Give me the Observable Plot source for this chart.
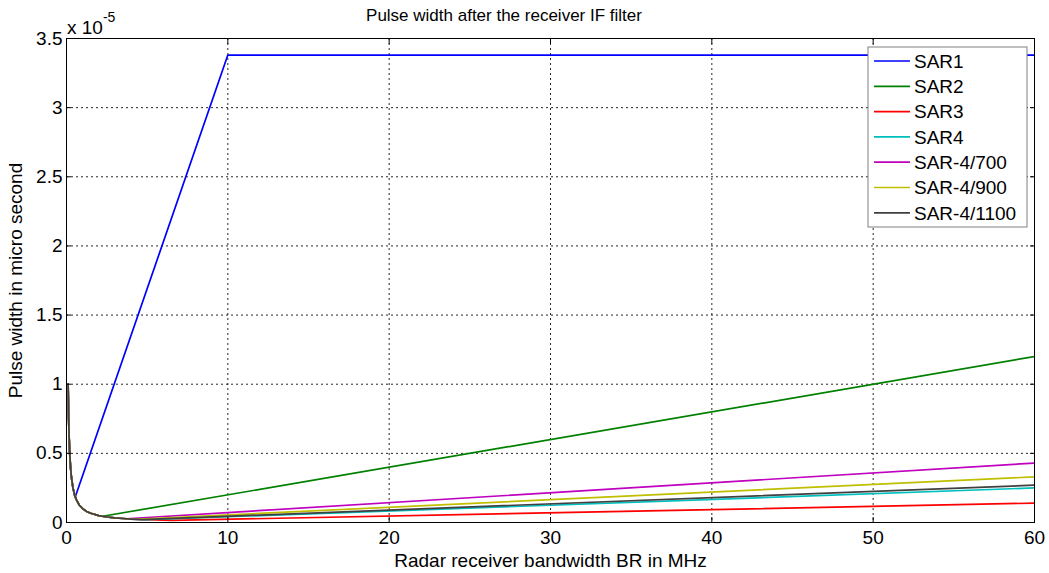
<!DOCTYPE html>
<html><head><meta charset="utf-8">
<script src="https://cdn.jsdelivr.net/npm/d3@7"></script>
<script src="https://cdn.jsdelivr.net/npm/@observablehq/plot@0.6"></script>
<style>
html,body{margin:0;padding:0;background:#fff;}
svg{font-family:"Liberation Sans",Arial,sans-serif;}
</style></head>
<body><div id="chart"></div>
<script>
// Values in units of 1e-5 (y) and MHz (x)
const seriesNames = ["SAR1","SAR2","SAR3","SAR4","SAR-4/700","SAR-4/900","SAR-4/1100"];
const seriesColors = ["#0000ff","#008000","#ff0000","#00bfbf","#bf00bf","#bfbf00","#404040"];
// shared falling branch
const decayX = [0.1, 0.13, 0.16, 0.2, 0.25, 0.3, 0.4, 0.5, 0.6, 0.8, 1, 1.25, 1.5, 2, 2.5, 3, 3.5, 4, 5, 6, 7];
const decayY = [1.0, 0.77, 0.625, 0.5, 0.4, 0.333, 0.25, 0.2, 0.167, 0.125, 0.1, 0.08, 0.067, 0.05, 0.04, 0.033, 0.029, 0.025, 0.02, 0.0167, 0.0143];
// rising branch of each series
const tailX = [[0.54, 10, 60],[2.24, 60],[6.55, 60],[4.9, 60],[3.73, 60],[4.26, 60],[4.71, 60]];
const tailY = [[0.184, 3.38, 3.38],[0.045, 1.2],[0.0153, 0.14],[0.0204, 0.25],[0.027, 0.43],[0.0235, 0.33],[0.021, 0.27]];
const xTicks = [0,10,20,30,40,50,60];
const yTicks = [0,0.5,1,1.5,2,2.5,3,3.5];

const data = [];
seriesNames.forEach((name, i) => {
  const x0 = tailX[i][0];
  decayX.forEach((x, j) => { if (x < x0) data.push({series: name, x, y: decayY[j]}); });
  tailX[i].forEach((x, j) => data.push({series: name, x, y: tailY[i][j]}));
});

const FS = 19;
const W = 1049, H = 573;
const chart = Plot.plot({
  width: W, height: H,
  marginLeft: 66, marginRight: 15, marginTop: 38, marginBottom: 51,
  style: {fontFamily: '"Liberation Sans",Arial,sans-serif', fontSize: FS + "px", color: "#000", background: "#fff"},
  x: {domain: [0, 60], ticks: xTicks},
  y: {domain: [0, 3.5], ticks: yTicks},
  color: {domain: seriesNames, range: seriesColors},
  marks: [
    Plot.gridX(xTicks, {stroke: "#000", strokeOpacity: 0.85, strokeDasharray: "2,3"}),
    Plot.gridY(yTicks, {stroke: "#000", strokeOpacity: 0.85, strokeDasharray: "2,3"}),
    Plot.line(data, {x: "x", y: "y", z: "series", stroke: "series", strokeWidth: 1.7, clip: true}),
    Plot.frame({stroke: "#000", strokeWidth: 1}),
    Plot.axisX(xTicks, {anchor: "bottom", tickSize: -5, tickPadding: 13, tickFormat: d => String(d), label: "Radar receiver bandwidth BR in MHz", labelAnchor: "center", labelArrow: "none", labelOffset: 44, fontSize: FS}),
    Plot.axisX(xTicks, {anchor: "top", tickSize: -5, text: null, label: null}),
    Plot.axisY(yTicks, {anchor: "left", tickSize: -5, tickPadding: 9, tickFormat: d => String(d), label: "Pulse width in micro second", labelAnchor: "center", labelArrow: "none", labelOffset: 58, fontSize: FS}),
    Plot.axisY(yTicks, {anchor: "right", tickSize: -5, text: null, label: null})
  ]
});
document.getElementById("chart").appendChild(chart);

const svg = d3.select(chart);
// title
svg.append("text").attr("x", 504).attr("y", 21).attr("text-anchor", "middle")
  .style("font-size", "17px").attr("fill", "#000").text("Pulse width after the receiver IF filter");
// exponent
const ex = svg.append("text").attr("x", 67).attr("y", 34).attr("text-anchor", "start")
  .style("font-size", FS + "px").attr("fill", "#000");
ex.append("tspan").text("x 10");
ex.append("tspan").attr("dy", -12).style("font-size", "14px").text("-5");

// legend
const lg = svg.append("g").attr("transform", "translate(868,47)");
lg.append("rect").attr("width", 159).attr("height", 180).attr("fill", "#fff").attr("stroke", "#808080").attr("stroke-width", 1);
seriesNames.forEach((name, i) => {
  const y = 14 + i * 25.3;
  lg.append("line").attr("x1", 6).attr("x2", 42).attr("y1", y).attr("y2", y)
    .attr("stroke", seriesColors[i]).attr("stroke-width", 1.7);
  lg.append("text").attr("x", 46).attr("y", y).attr("dy", "0.36em").attr("text-anchor", "start")
    .style("font-size", FS + "px").attr("fill", "#000").text(name);
});
</script></body></html>
